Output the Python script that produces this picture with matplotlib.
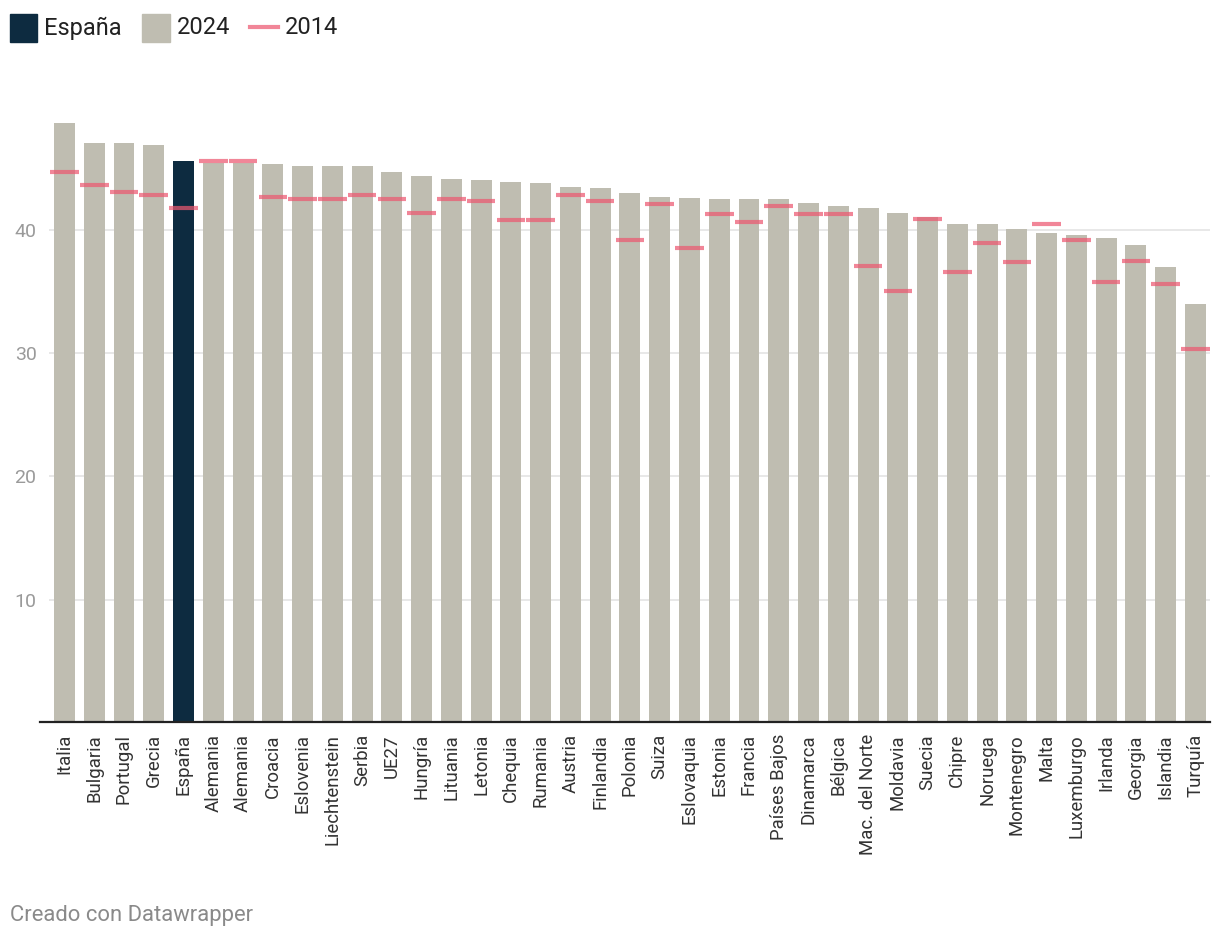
import matplotlib
matplotlib.use("Agg")
import matplotlib.pyplot as plt
from matplotlib.patches import Rectangle
from matplotlib.lines import Line2D
import numpy as np

plt.rcParams["font.family"] = ["Roboto", "DejaVu Sans"]

# Data
paises = ["Italia", "Bulgaria", "Portugal", "Grecia", "España", "Alemania", "Alemania",
          "Croacia", "Eslovenia", "Liechtenstein", "Serbia", "UE27", "Hungría", "Lituania",
          "Letonia", "Chequia", "Rumania", "Austria", "Finlandia", "Polonia", "Suiza",
          "Eslovaquia", "Estonia", "Francia", "Países Bajos", "Dinamarca", "Bélgica",
          "Mac. del Norte", "Moldavia", "Suecia", "Chipre", "Noruega", "Montenegro",
          "Malta", "Luxemburgo", "Irlanda", "Georgia", "Islandia", "Turquía"]
valores_2024 = [48.7, 47.0, 47.0, 46.9, 45.6, 45.4, 45.4, 45.3, 45.2, 45.2, 45.2, 44.7,
                44.4, 44.1, 44.0, 43.9, 43.8, 43.5, 43.4, 43.0, 42.7, 42.6, 42.5, 42.5,
                42.5, 42.2, 41.9, 41.8, 41.4, 41.0, 40.5, 40.5, 40.1, 39.7, 39.6, 39.3,
                38.8, 37.0, 34.0]
valores_2014 = [44.7, 43.6, 43.1, 42.8, 41.8, 45.6, 45.6, 42.7, 42.5, 42.5, 42.8, 42.5,
                41.4, 42.5, 42.3, 40.8, 40.8, 42.8, 42.3, 39.2, 42.1, 38.5, 41.3, 40.6,
                41.9, 41.3, 41.3, 37.1, 35.0, 40.9, 36.6, 38.9, 37.4, 40.5, 39.2, 35.8,
                37.5, 35.6, 30.3]
destacado = "España"

W, H = 1220, 942
gris = "#bfbdb1"
azul = "#0d2b40"
rosa = "#ec5870"

fig = plt.figure(figsize=(W / 100, H / 100), dpi=100)


def fx(px):
    return px / W


def fy(py):
    return 1 - py / H


ax = fig.add_axes([fx(49), fy(723), fx(1210) - fx(49), fy(106.5) - fy(723)])

x = np.arange(len(paises))
colores = [azul if p == destacado else gris for p in paises]
ax.bar(x, valores_2024, width=0.705, color=colores, zorder=2)
ax.hlines(valores_2014, x - 0.48, x + 0.48, colors=rosa, alpha=0.72, lw=3, zorder=3)

ax.set_xlim(-0.52, len(paises) - 0.51)
ax.set_ylim(0, 50)
ax.set_yticks([10, 20, 30, 40])
ax.grid(axis="y", color="#e6e6e6", lw=1.3, zorder=0)
ax.set_axisbelow(True)
for s in ["top", "right", "left", "bottom"]:
    ax.spines[s].set_visible(False)

ax.set_xticks(x)
ax.set_xticklabels(paises, rotation=90, fontsize=13.4, color="#333333")
ax.tick_params(axis="x", length=0, pad=8)
ax.tick_params(axis="y", length=0, pad=9, labelsize=14, labelcolor="#9a9a9a")

# baseline
fig.add_artist(Line2D([fx(40), fx(1210)], [fy(722), fy(722)], color="#222222", lw=1.6))

# legend
fig.add_artist(Rectangle((fx(10), fy(42)), fx(27), fy(14) - fy(42), color=azul))
fig.text(fx(44), fy(28), "España", fontsize=17, color="#222222", va="center")
fig.add_artist(Rectangle((fx(142), fy(42)), fx(28), fy(14) - fy(42), color=gris))
fig.text(fx(177), fy(28), "2024", fontsize=17, color="#222222", va="center")
fig.add_artist(Line2D([fx(250), fx(278)], [fy(27), fy(27)], color=rosa, alpha=0.72, lw=3))
fig.text(fx(285), fy(28), "2014", fontsize=17, color="#222222", va="center")

# footer
fig.text(fx(10), fy(916), "Creado con Datawrapper", fontsize=15.8, color="#8a8a8a", va="center")

fig.savefig("out.png", dpi=100)
